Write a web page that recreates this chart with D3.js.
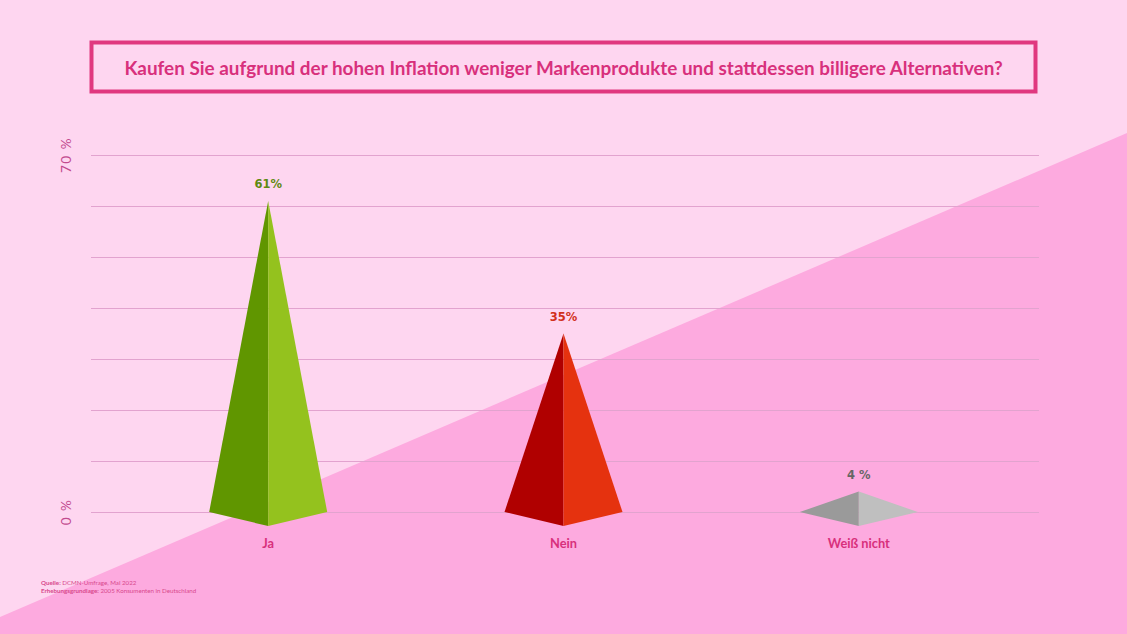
<!DOCTYPE html>
<html><head><meta charset="utf-8">
<script src="https://cdn.jsdelivr.net/npm/d3@7"></script>
<style>html,body{margin:0;padding:0;background:#fed6f0;overflow:hidden}</style>
</head><body>
<svg id="c" width="1127" height="634"></svg>
<script>
const categories = ["Ja", "Nein", "Weiß nicht"];
const values = [61, 35, 4];
const valueLabels = ["61%", "35%", "4 %"];
const leftColors = ["#609600", "#b00000", "#9a9a9a"];
const rightColors = ["#94c21e", "#e5320f", "#bfbfbf"];
const labelColors = ["#5e8a12", "#d2301c", "#666666"];
const yTicks = [0, 10, 20, 30, 40, 50, 60, 70];
const yTickLabels = {0: "0 %", 70: "70 %"};
const title = "Kaufen Sie aufgrund der hohen Inflation weniger Markenprodukte und stattdessen billigere Alternativen?";

const W = 1127, H = 634;
const svg = d3.select("#c");

// background
svg.append("rect").attr("width", W).attr("height", H).attr("fill", "#fed6f0");
svg.append("polygon").attr("points", `0,617 ${W},133 ${W},${H} 0,${H}`).attr("fill", "#fdaadf");

// title box
svg.append("rect").attr("x", 91.5).attr("y", 42.5).attr("width", 944).attr("height", 49)
  .attr("fill", "none").attr("stroke", "#e0387f").attr("stroke-width", 4);
svg.append("text").attr("x", 563.5).attr("y", 74.5).attr("text-anchor", "middle")
  .attr("font-family", "Lato, 'Open Sans', sans-serif").attr("font-weight", "bold")
  .attr("font-size", 18.9).attr("fill", "#d8307c").text(title);

const x = d3.scalePoint().domain(categories).range([91, 1036]).padding(0.6);
const y = d3.scaleLinear().domain([0, 70]).range([512, 155]);

// gridlines
svg.append("g").selectAll("line").data(yTicks).join("line")
  .attr("x1", 91).attr("x2", 1039)
  .attr("y1", d => y(d) + 0.5).attr("y2", d => y(d) + 0.5)
  .attr("stroke", "#e2a3cf").attr("stroke-width", 1);

// y labels
svg.append("g").selectAll("text").data(yTicks.filter(d => yTickLabels[d])).join("text")
  .attr("transform", d => `translate(71,${y(d)}) rotate(-90)`)
  .attr("text-anchor", "middle")
  .attr("font-family", "Lato, 'Open Sans', sans-serif").attr("font-size", 13.5)
  .attr("fill", "#c24a8e").attr("letter-spacing", 1.5)
  .text(d => yTickLabels[d]);

// pyramids
const half = 59, depth = 14;
const g = svg.append("g");
categories.forEach((c, i) => {
  const cx = x(c), top = y(values[i]), base = y(0);
  g.append("polygon").attr("points", `${cx},${top} ${cx - half},${base} ${cx},${base + depth}`).attr("fill", leftColors[i]);
  g.append("polygon").attr("points", `${cx},${top} ${cx},${base + depth} ${cx + half},${base}`).attr("fill", rightColors[i]);
  g.append("text").attr("x", cx).attr("y", top - 13).attr("text-anchor", "middle")
    .attr("font-family", "'DejaVu Sans', Verdana, sans-serif").attr("font-weight", "bold")
    .attr("font-size", 11.5).attr("fill", labelColors[i]).text(valueLabels[i]);
  g.append("text").attr("x", cx).attr("y", 548).attr("text-anchor", "middle")
    .attr("font-family", "Lato, 'Open Sans', sans-serif").attr("font-weight", "bold")
    .attr("font-size", 12.8).attr("fill", "#d8307c").text(c);
});

// source
const src = svg.append("g").attr("font-family", "Lato, 'Open Sans', sans-serif").attr("font-size", 6.2).attr("fill", "#d8488c");
const t1 = src.append("text").attr("x", 41).attr("y", 585);
t1.append("tspan").attr("font-weight", "bold").text("Quelle: ");
t1.append("tspan").text("DCMN-Umfrage, Mai 2022");
const t2 = src.append("text").attr("x", 41).attr("y", 593);
t2.append("tspan").attr("font-weight", "bold").text("Erhebungsgrundlage: ");
t2.append("tspan").text("2005 Konsumenten in Deutschland");
</script>
</body></html>
